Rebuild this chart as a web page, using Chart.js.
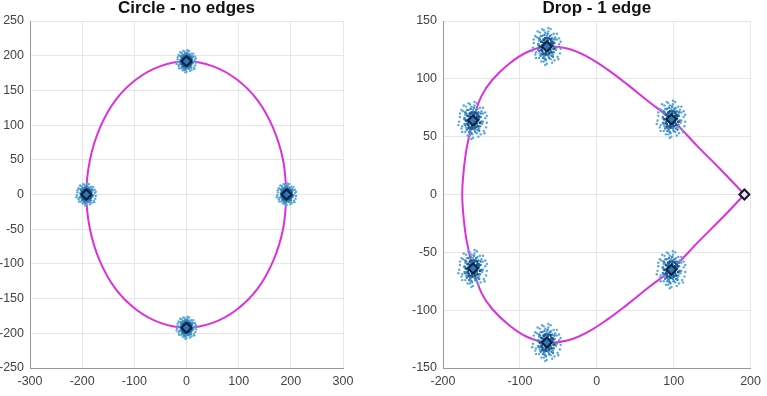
<!DOCTYPE html>
<html>
<head>
<meta charset="utf-8">
<script src="https://cdn.jsdelivr.net/npm/chart.js@4.4.1/dist/chart.umd.min.js"></script>
<style>
  html, body { margin: 0; padding: 0; background: #fff; }
  #wrap { position: relative; width: 767px; height: 396px; }
  #c1 { position: absolute; left: 0; top: 0; }
  #c2 { position: absolute; left: 400px; top: 0; }
</style>
</head>
<body>
<div id="wrap">
  <canvas id="c1" width="383" height="396"></canvas>
  <canvas id="c2" width="367" height="396"></canvas>
</div>
<script>
// Left panel: fitted curve and cluster centres
const circleCurve = [
  [192, 0], [185, 50], [166, 96], [136, 136], [96, 166], [50, 185], [0, 192],
  [-50, 185], [-96, 166], [-136, 136], [-166, 96], [-185, 50], [-192, 0],
  [-185, -50], [-166, -96], [-136, -136], [-96, -166], [-50, -185], [0, -192],
  [50, -185], [96, -166], [136, -136], [166, -96], [185, -50], [192, 0]
];
const circleCenters = [[0, 192], [-192, 0], [192, 0], [0, -192]];

// Right panel: drop curve, starts and ends at the edge point
const dropCurve = [
  [192, 0], [162, 21], [132, 41], [97, 65], [68, 80], [40, 95], [14, 108],
  [-12, 119], [-37, 126], [-65, 128], [-91, 123], [-114, 113], [-136, 99],
  [-150, 85], [-161, 64], [-169, 41], [-173, 21], [-175, 0],
  [-173, -21], [-169, -41], [-161, -64], [-150, -85], [-136, -99], [-114, -113],
  [-91, -123], [-65, -128], [-37, -126], [-12, -119], [14, -108], [40, -95],
  [68, -80], [97, -65], [132, -41], [162, -21], [192, 0]
];
const dropCenters = [[-65, 128], [-161, 64], [97, 65], [-161, -64], [-65, -128], [97, -65]];
const dropTip = [[192, 0]];

// noise around each centre (offsets in data units)
const spreadOuter = [
  [-17, 3], [-14, -5], [-13, 8], [-10, -10], [-9, 12], [-7, -13], [-4, 14], [-3, -9],
  [0, -15], [2, 13], [5, -11], [6, 10], [8, -7], [9, 11], [12, -3], [13, 6], [14, -9],
  [16, 2], [18, -2], [-18, -1], [-11, 1], [10, -12], [-8, 9], [5, 15], [-2, -16], [2, 16],
  [13, 11], [-14, -10], [16, 7], [-6, 4], [1, -6], [17, -6], [-17, 6], [0, 9], [-2, 12],
  [-12, 13], [15, -11], [-9, -6], [9, 3], [-15, -7], [-4, -13], [7, -14], [-10, 5],
  [13, -1], [-6, 15], [3, -3], [-15, 9], [11, 8], [-1, -12], [4, 7], [-7, -2], [18, 4],
  [-19, -4]
];
const spreadMid = [
  [-11, 2], [-10, -4], [-9, 6], [-8, -8], [-6, 9], [-5, -10], [-3, 10], [-2, -11],
  [1, 11], [3, -10], [4, 9], [6, -8], [7, 7], [9, -5], [10, 3], [11, -1], [-10, 7],
  [8, -9], [-7, -7], [10, 6], [-4, -8], [5, -3], [-6, 1], [0, 7], [2, -8], [-11, -3],
  [6, 4], [-3, 5]
];
const spreadInner = [
  [-9, 0], [-7, 4], [-6, -4], [-4, 6], [-2, -6], [-1, 2], [0, -3], [1, 5], [3, -1], [5, 3],
  [6, -5], [7, 1], [9, -2], [-3, -1], [2, 7], [-1, -7], [7, 4], [-7, -3], [0, 0], [3, -6],
  [-5, -6], [5, 6], [-4, 3], [2, -4], [-2, 7], [4, -2], [-5, -1], [1, 2], [-1, -4], [8, 3]
];

const FONT = 'Liberation Sans, Arial, Helvetica, sans-serif';

function pts(list) {
  return list.map(p => ({ x: p[0], y: p[1] }));
}

function cloud(centers, spread) {
  const out = [];
  centers.forEach(c => spread.forEach(o => out.push({ x: c[0] + o[0], y: c[1] + o[1] })));
  return out;
}

function axis(min, max, step, width, pad, isY) {
  return {
    type: 'linear',
    min: min,
    max: max,
    grid: { color: '#e6e6e6', lineWidth: 1, drawTicks: false },
    border: { color: '#9a9a9a', width: 1 },
    ticks: {
      stepSize: step,
      padding: pad,
      color: '#444',
      font: { family: FONT, size: 12.5 },
      maxRotation: 0,
      autoSkip: false
    },
    afterFit: scale => {
      if (isY) scale.width = width;
      else scale.height = width;
    }
  };
}

function makeChart(id, title, curve, centers, extra, xr, yr, yWidth, padRight) {
  const datasets = [
    {
      data: pts(centers),
      pointStyle: 'rectRot',
      pointRadius: 5,
      backgroundColor: '#2e78b7',
      borderColor: '#0d2240',
      borderWidth: 2,
      order: 0
    },
    {
      data: cloud(centers, spreadInner),
      pointRadius: 1.5,
      backgroundColor: '#1b5a8e',
      borderWidth: 0,
      order: 1
    },
    {
      data: cloud(centers, spreadMid),
      pointRadius: 1.3,
      backgroundColor: '#3a86c0',
      borderWidth: 0,
      order: 2
    },
    {
      data: cloud(centers, spreadOuter),
      pointRadius: 1.2,
      backgroundColor: '#58a8d8',
      borderWidth: 0,
      order: 3
    },
    {
      data: pts(curve),
      showLine: true,
      borderColor: '#dd30dd',
      borderWidth: 2,
      tension: 0.4,
      pointRadius: 0,
      order: 4
    }
  ];
  if (extra) {
    datasets.push({
      data: pts(extra),
      pointStyle: 'rectRot',
      pointRadius: 5,
      backgroundColor: '#ece6f4',
      borderColor: '#141428',
      borderWidth: 2,
      order: 0
    });
  }
  return new Chart(document.getElementById(id), {
    type: 'scatter',
    data: { datasets: datasets },
    options: {
      responsive: false,
      animation: false,
      layout: { padding: { left: 0, right: padRight, top: 0, bottom: 0 } },
      plugins: {
        legend: { display: false },
        tooltip: { enabled: false },
        title: {
          display: true,
          text: title,
          fullSize: false,
          color: '#111',
          font: { family: FONT, size: 17, weight: 'bold', lineHeight: 1.0 },
          padding: { top: 0, bottom: 4 }
        }
      },
      scales: {
        x: axis(xr[0], xr[1], xr[2], 28, 6, false),
        y: axis(yr[0], yr[1], yr[2], yWidth, 6, true)
      }
    }
  });
}

makeChart('c1', 'Circle - no edges', circleCurve, circleCenters, null,
  [-300, 300, 100], [-250, 250, 50], 30, 40);
makeChart('c2', 'Drop - 1 edge', dropCurve, dropCenters, dropTip,
  [-200, 200, 100], [-150, 150, 50], 43, 12);
</script>
</body>
</html>
